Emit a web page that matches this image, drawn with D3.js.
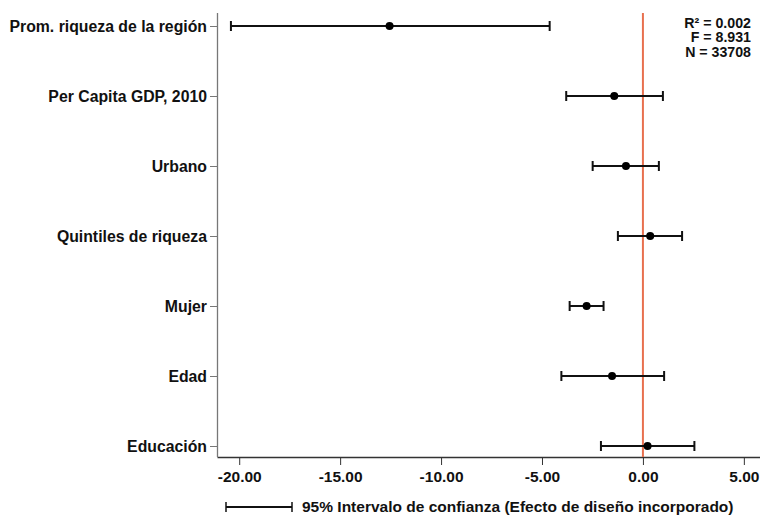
<!DOCTYPE html>
<html>
<head>
<meta charset="utf-8">
<script src="https://cdn.jsdelivr.net/npm/d3@7"></script>
<style>
  body { margin: 0; background: #fff; }
  text { font-family: "Liberation Sans", Arial, sans-serif; font-weight: bold; fill: #111; }
</style>
</head>
<body>
<svg id="chart" width="760" height="516"></svg>
<script>
// coefficient plot data
const labels = ['Prom. riqueza de la región', 'Per Capita GDP, 2010', 'Urbano',
    'Quintiles de riqueza', 'Mujer', 'Edad', 'Educación'];
const estimates = [-12.55, -1.42, -0.84, 0.36, -2.79, -1.53, 0.23];
const lower = [-20.41, -3.80, -2.49, -1.24, -3.63, -4.04, -2.08];
const upper = [-4.62, 0.99, 0.79, 1.94, -1.95, 1.05, 2.55];
const xTicks = [-20, -15, -10, -5, 0, 5];
const stats = ['R² = 0.002', 'F = 8.931', 'N = 33708'];
const legendText = '95% Intervalo de confianza (Efecto de diseño incorporado)';

const svg = d3.select('#chart');

const x = d3.scaleLinear().domain([-21.1, 5.8]).range([217, 760]);
const y = d3.scalePoint().domain(labels).range([26, 446]);

const plotTop = 13, plotBottom = 457;

// x axis (plain hyphen for negatives, like the original)
svg.append('g')
    .attr('transform', 'translate(0,' + plotBottom + ')')
    .call(d3.axisBottom(x).tickValues(xTicks).tickFormat(d => d.toFixed(2)).tickSizeInner(8).tickSizeOuter(0).tickPadding(6))
    .call(g => g.select('.domain').attr('stroke', '#333').attr('stroke-width', 1.3))
    .call(g => g.selectAll('.tick line').attr('stroke', '#333'))
    .call(g => g.selectAll('.tick text').attr('font-size', 15.5).attr('font-family', null).attr('fill', '#111'));

// y axis
svg.append('g')
    .attr('transform', 'translate(' + x.range()[0] + ',0)')
    .call(d3.axisLeft(y).tickSizeInner(7).tickSizeOuter(0).tickPadding(3))
    .call(g => g.select('.domain').attr('d', 'M0.5,' + plotTop + 'V' + plotBottom).attr('stroke', '#777').attr('stroke-width', 1.3))
    .call(g => g.selectAll('.tick line').attr('stroke', '#777'))
    .call(g => g.selectAll('.tick text').attr('font-size', 15.8).attr('font-family', null).attr('fill', '#111'));

// zero line
svg.append('line')
    .attr('x1', x(0)).attr('x2', x(0))
    .attr('y1', plotTop).attr('y2', plotBottom)
    .attr('stroke', '#e8704f').attr('stroke-width', 2);

// error bars
let rows = svg.append('g').selectAll('g')
    .data(labels)
    .enter()
    .append('g');

rows.append('line')
    .attr('x1', (d, i) => x(lower[i])).attr('x2', (d, i) => x(upper[i]))
    .attr('y1', d => y(d)).attr('y2', d => y(d))
    .attr('stroke', '#111').attr('stroke-width', 2.2);

rows.append('line')
    .attr('x1', (d, i) => x(lower[i])).attr('x2', (d, i) => x(lower[i]))
    .attr('y1', d => y(d) - 5).attr('y2', d => y(d) + 5)
    .attr('stroke', '#111').attr('stroke-width', 2);

rows.append('line')
    .attr('x1', (d, i) => x(upper[i])).attr('x2', (d, i) => x(upper[i]))
    .attr('y1', d => y(d) - 5).attr('y2', d => y(d) + 5)
    .attr('stroke', '#111').attr('stroke-width', 2);

rows.append('circle')
    .attr('cx', (d, i) => x(estimates[i]))
    .attr('cy', d => y(d))
    .attr('r', 4)
    .attr('fill', '#000');

// fit statistics
svg.append('g').selectAll('text')
    .data(stats)
    .enter()
    .append('text')
    .attr('x', 751)
    .attr('y', (d, i) => 27.5 + i * 14.5)
    .attr('text-anchor', 'end')
    .attr('font-size', 14.2)
    .text(d => d);

// legend
svg.append('line')
    .attr('x1', 226).attr('x2', 292).attr('y1', 507).attr('y2', 507)
    .attr('stroke', '#111').attr('stroke-width', 2);
svg.append('line')
    .attr('x1', 226).attr('x2', 226).attr('y1', 502).attr('y2', 512)
    .attr('stroke', '#111').attr('stroke-width', 1.5);
svg.append('line')
    .attr('x1', 292).attr('x2', 292).attr('y1', 502).attr('y2', 512)
    .attr('stroke', '#111').attr('stroke-width', 1.5);
svg.append('text')
    .attr('x', 302).attr('y', 512)
    .attr('font-size', 15.5)
    .text(legendText);
</script>
</body>
</html>
